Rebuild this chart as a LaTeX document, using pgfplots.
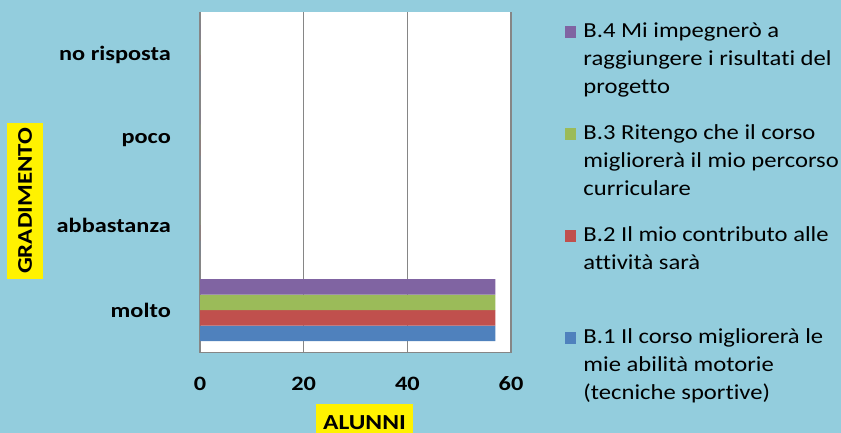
\documentclass[border=0pt]{standalone}
\usepackage{fontspec}
\setmainfont{Carlito}[Ligatures=NoCommon, FakeStretch=1.15, BoldFeatures={FakeStretch=1.19}]
\usepackage{pgfplots}
\pgfplotsset{compat=1.18}
\definecolor{bgc}{HTML}{93CDDD}
\definecolor{gridc}{HTML}{868686}
\definecolor{cB1}{HTML}{4F81BD}
\definecolor{cB2}{HTML}{C0504D}
\definecolor{cB3}{HTML}{9BBB59}
\definecolor{cB4}{HTML}{8064A2}
\pgfplotsset{sqlegend/.style={legend image code/.code={\fill[##1] (0bp,0bp) rectangle (11.5bp,11.5bp);}}}
\newcommand{\legtext}[1]{\begin{tabular}[t]{@{}l@{}}#1\end{tabular}}
\begin{document}
\begin{tikzpicture}
\fill[bgc] (0,0) rectangle (841bp,433bp);
\useasboundingbox (0,0) rectangle (841bp,433bp);
\begin{axis}[
    at={(200bp,80.5bp)}, anchor=south west,
    scale only axis, width=311bp, height=340bp,
    xbar=0pt, bar width=15.5bp,
    xmin=0, xmax=60, ymin=-0.5, ymax=3.5,
    xtick={0,20,40,60}, ytick={0,1,2,3},
    yticklabels={molto,abbastanza,poco,no risposta},
    major tick length=0pt,
    axis x line*=bottom, axis y line*=left,
    axis line style={-, draw=gridc, line width=1.5bp},
    xmajorgrids, major grid style={draw=gridc, line width=1.5bp},
    axis background/.style={fill=white},
    /pgf/number format/assume math mode=true,
    tick label style={font=\bfseries\fontsize{20.5}{24}\selectfont, inner sep=0pt},
    x tick label style={anchor=center, yshift=-31bp},
    y tick label style={anchor=east, xshift=-29bp},
    xlabel={ALUNNI}, ylabel={GRADIMENTO},
    xlabel style={at={(axis description cs:0.529,-0.1515)}, anchor=north,
      fill=yellow, font=\bfseries\fontsize{21.5}{24}\selectfont, inner xsep=7.5bp, inner ysep=11bp},
    ylabel style={at={(axis description cs:-0.5627,0.446)}, anchor=center,
      fill=yellow, font=\bfseries\fontsize{21}{24}\selectfont, inner xsep=5bp, inner ysep=11bp},
    reverse legend,
    legend style={at={(rel axis cs:1.1736,0.9826)}, anchor=north west,
      draw=none, fill=none, inner sep=0pt, outer sep=0pt,
      font=\fontsize{21.5}{28}\selectfont, row sep=80.9bp,
      nodes={inner sep=0pt},
      cells={anchor=base west},
      /tikz/every odd column/.append style={column sep=7bp}},
  ]
  \addplot[fill=cB1, draw=none, sqlegend]
    coordinates {(57,0) (0,1) (0,2) (0,3)};
  \addlegendentry{\legtext{B.1 Il corso migliorerà le\\mie abilità motorie\\(tecniche sportive)}}
  \addplot[fill=cB2, draw=none, sqlegend]
    coordinates {(57,0) (0,1) (0,2) (0,3)};
  \addlegendentry{\legtext{B.2 Il mio contributo alle\\attività sarà}}
  \addplot[fill=cB3, draw=none, sqlegend]
    coordinates {(57,0) (0,1) (0,2) (0,3)};
  \addlegendentry{\legtext{B.3 Ritengo che il corso\\migliorerà il mio percorso\\curriculare}}
  \addplot[fill=cB4, draw=none, sqlegend]
    coordinates {(57,0) (0,1) (0,2) (0,3)};
  \addlegendentry{\legtext{B.4 Mi impegnerò a\\raggiungere i risultati del\\progetto}}
\end{axis}
\end{tikzpicture}
\end{document}
